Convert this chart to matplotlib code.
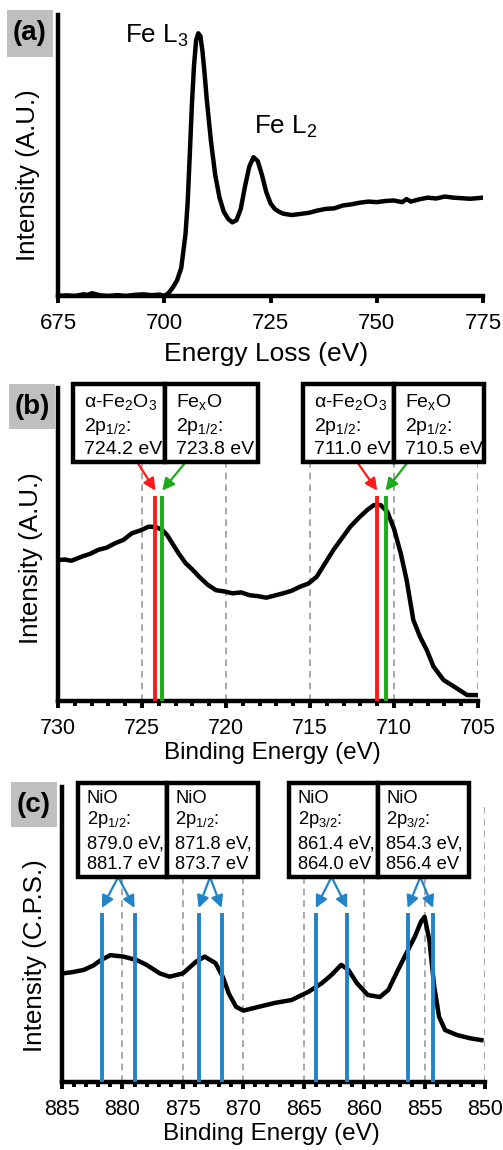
import matplotlib
matplotlib.use('Agg')
import matplotlib.pyplot as plt
from matplotlib.patches import Rectangle
from matplotlib.ticker import MultipleLocator

plt.rcParams['font.family'] = ['Liberation Sans', 'DejaVu Sans']
plt.rcParams['mathtext.fontset'] = 'custom'
plt.rcParams['mathtext.rm'] = 'Liberation Sans'
plt.rcParams['mathtext.it'] = 'Liberation Sans:italic'
plt.rcParams['mathtext.default'] = 'regular'

# (a) EELS Fe L edge
eels_e = [675, 677, 679, 681, 682, 683, 685, 687, 689, 691, 693, 695, 697, 699, 700,
          701, 702, 703, 704, 705, 705.5, 706, 706.5, 707, 707.5, 708, 708.5, 709,
          709.5, 710, 711, 712, 713, 714, 715, 716, 717, 718, 719, 720, 721, 722, 723,
          724, 725, 726, 727, 728, 730, 732, 734, 736, 738, 740, 742, 744, 746, 748,
          750, 752, 754, 756, 757, 758, 760, 762, 764, 766, 768, 770, 772, 775]
eels_int = [0.0, 0.002, 0.0, 0.006, 0.004, 0.01, 0.002, 0.0, 0.003, 0.0, 0.004, 0.006,
            0.003, 0.005, 0.0, 0.01, 0.03, 0.055, 0.10, 0.22, 0.33, 0.50, 0.68, 0.82,
            0.91, 0.935, 0.925, 0.87, 0.79, 0.70, 0.55, 0.43, 0.35, 0.30, 0.275, 0.262,
            0.27, 0.31, 0.39, 0.46, 0.494, 0.48, 0.43, 0.37, 0.33, 0.31, 0.30, 0.293,
            0.288, 0.292, 0.296, 0.304, 0.31, 0.312, 0.322, 0.326, 0.332, 0.336, 0.334,
            0.338, 0.34, 0.334, 0.345, 0.336, 0.344, 0.35, 0.347, 0.354, 0.35, 0.348,
            0.346, 0.35]
eels_ticks = [675, 700, 725, 750, 775]

# (b) Fe 2p XPS
fe_be = [730, 729.6, 729.2, 728.6, 728.1, 727.6, 727.1, 726.6, 726.1, 725.6, 725.1,
         724.6, 724.2, 723.8, 723.5, 723.2, 722.8, 722.4, 722.0, 721.6, 721.1, 720.6,
         720.1, 719.6, 719.1, 718.6, 718.1, 717.6, 717.1, 716.6, 716.1, 715.6, 715.1,
         714.6, 714.1, 713.6, 713.1, 712.6, 712.1, 711.6, 711.2, 710.8, 710.4, 710.0,
         709.6, 709.25, 708.85, 708.45, 708.05, 707.65, 707.05, 706.25, 705.65, 705.1]
fe_int = [0.45, 0.452, 0.448, 0.461, 0.47, 0.483, 0.49, 0.504, 0.515, 0.536, 0.545,
          0.557, 0.556, 0.547, 0.53, 0.504, 0.47, 0.44, 0.42, 0.397, 0.372, 0.354,
          0.35, 0.344, 0.347, 0.338, 0.335, 0.33, 0.337, 0.344, 0.352, 0.365, 0.375,
          0.397, 0.44, 0.483, 0.52, 0.557, 0.585, 0.61, 0.626, 0.626, 0.605, 0.55,
          0.472, 0.387, 0.259, 0.205, 0.163, 0.11, 0.067, 0.04, 0.019, 0.019]
fe_ticks = [730, 725, 720, 715, 710, 705]
fe_refs = [724.2, 723.8, 711.0, 710.5]
fe_ref_colors = ['#ff1a1a', '#1aaa1a', '#ff1a1a', '#1aaa1a']
fe_labels = [['α-Fe$_2$O$_3$', '2p$_{1/2}$:', '724.2 eV'],
             ['Fe$_x$O', '2p$_{1/2}$:', '723.8 eV'],
             ['α-Fe$_2$O$_3$', '2p$_{1/2}$:', '711.0 eV'],
             ['Fe$_x$O', '2p$_{1/2}$:', '710.5 eV']]

# (c) Ni 2p XPS
ni_be = [885, 884.2, 883.2, 882.4, 881.8, 881.0, 879.9, 878.8, 878.0, 876.9, 876.1,
         875.0, 873.9, 873.2, 872.3, 871.7, 871.2, 870.6, 870.0, 868.7, 867.4, 866.0,
         864.6, 863.5, 862.7, 861.9, 861.3, 860.6, 859.7, 858.7, 858.0, 857.2, 856.5,
         855.8, 855.3, 855.0, 854.6, 854.2, 853.8, 853.3, 852.3, 851.2, 850.3]
ni_int = [0.368, 0.372, 0.38, 0.395, 0.413, 0.43, 0.425, 0.413, 0.397, 0.368, 0.357,
          0.368, 0.408, 0.425, 0.403, 0.357, 0.30, 0.255, 0.242, 0.255, 0.268, 0.278,
          0.306, 0.335, 0.363, 0.397, 0.38, 0.335, 0.295, 0.288, 0.312, 0.38, 0.437,
          0.493, 0.543, 0.56, 0.48, 0.323, 0.221, 0.176, 0.159, 0.148, 0.142]
ni_ticks = [885, 880, 875, 870, 865, 860, 855, 850]
ni_refs = [[881.7, 879.0], [873.7, 871.8], [864.0, 861.4], [856.4, 854.3]]
ni_labels = [['NiO', '2p$_{1/2}$:', '879.0 eV,', '881.7 eV'],
             ['NiO', '2p$_{1/2}$:', '871.8 eV,', '873.7 eV'],
             ['NiO', '2p$_{3/2}$:', '861.4 eV,', '864.0 eV'],
             ['NiO', '2p$_{3/2}$:', '854.3 eV,', '856.4 eV']]

BLUE = '#2183c8'
GRID = '#999999'


def style_axes(ax, ticksize, minor=False):
    for s in ['top', 'right']:
        ax.spines[s].set_visible(False)
    for s in ['left', 'bottom']:
        ax.spines[s].set_linewidth(3.2)
    ax.set_yticks([])
    ax.set_ylim(0, 1)
    ax.tick_params(axis='x', which='major', direction='out', length=5, width=2.8,
                   labelsize=ticksize, pad=7)
    if minor:
        ax.xaxis.set_minor_locator(MultipleLocator(1))
        ax.tick_params(axis='x', which='minor', direction='out', length=3.5, width=2.8)


def draw_box(ax, x0, x1, y0, y1, lines, baselines, size, xpad):
    ax.add_patch(Rectangle((x0, y0), x1 - x0, y1 - y0, transform=ax.transAxes,
                           fc='white', ec='black', lw=3.2, clip_on=False, zorder=5))
    for txt, yb in zip(lines, baselines):
        ax.text(x0 + xpad, yb, txt, transform=ax.transAxes, fontsize=size,
                ha='left', va='baseline', zorder=6, clip_on=False)


def panel_label(fig, txt, x0, y0, x1, y1):
    W, H = 503.0, 1150.0
    fig.add_artist(Rectangle((x0 / W, 1 - y1 / H), (x1 - x0) / W, (y1 - y0) / H,
                             transform=fig.transFigure, fc='#bfbfbf', ec='none'))
    fig.text((x0 + x1) / 2 / W, 1 - (y0 + y1) / 2 / H, txt, fontsize=20,
             fontweight='bold', ha='center', va='center')


fig = plt.figure(figsize=(5.03, 11.5), dpi=100)

# ---- (a)
ax1 = fig.add_axes([58 / 503, 1 - 296 / 1150, 425 / 503, 281 / 1150])
ax1.plot(eels_e, eels_int, color='black', lw=3.2, solid_joinstyle='round')
ax1.set_xlim(675, 775)
ax1.set_xticks(eels_ticks)
style_axes(ax1, 16)
ax1.set_xlabel('Energy Loss (eV)', fontsize=19)
ax1.xaxis.set_label_coords(0.49, -0.165)
ax1.set_ylabel('Intensity (A.U.)', fontsize=18.7)
ax1.yaxis.set_label_coords(-0.042, 0.43)
ax1.text(705.6, 0.925, 'Fe L$_3$', fontsize=18.7, ha='right', va='center')
ax1.text(721, 0.60, 'Fe L$_2$', fontsize=18.7, ha='left', va='center')
panel_label(fig, '(a)', 7, 10, 53, 57)

# ---- (b)
ax2 = fig.add_axes([58 / 503, 1 - 701 / 1150, 420 / 503, 313 / 1150])
ax2.vlines(fe_ticks[1:], 0, 1, colors=GRID, lw=1.2, linestyles=(0, (4, 3)), zorder=1)
ax2.plot(fe_be, fe_int, color='black', lw=3.2, zorder=3, solid_joinstyle='round')
ax2.vlines(fe_refs, 0, 0.655, colors=fe_ref_colors, lw=2.8, zorder=4)
ax2.set_xlim(730, 705)
ax2.set_xticks(fe_ticks)
style_axes(ax2, 15.5, minor=True)
ax2.set_xlabel('Binding Energy (eV)', fontsize=17.5)
ax2.xaxis.set_label_coords(0.51, -0.13)
ax2.set_ylabel('Intensity (A.U.)', fontsize=18.7)
ax2.yaxis.set_label_coords(-0.036, 0.457)

fe_boxes = [(0.036, 0.255), (0.255, 0.476), (0.583, 0.800), (0.800, 1.014)]
fe_starts = [0.19, 0.302, 0.714, 0.831]
for (bx0, bx1), lines in zip(fe_boxes, fe_labels):
    draw_box(ax2, bx0, bx1, 0.7636, 1.0128, lines, [0.940, 0.864, 0.789], 14, 0.026)
for e, c, sx in zip(fe_refs, fe_ref_colors, fe_starts):
    ax2.annotate('', xy=(e, 0.672), xycoords='data',
                 xytext=(sx, 0.76), textcoords='axes fraction',
                 arrowprops=dict(arrowstyle='-|>', color=c, lw=1.6, mutation_scale=18,
                                 shrinkA=0, shrinkB=0), zorder=4)
panel_label(fig, '(b)', 9, 384, 55, 429)

# ---- (c)
ax3 = fig.add_axes([62 / 503, 1 - 1082 / 1150, 423 / 503, 295 / 1150])
ax3.vlines(ni_ticks[1:], 0, 0.946, colors=GRID, lw=1.2, linestyles=(0, (4, 3)), zorder=1)
ax3.plot(ni_be, ni_int, color='black', lw=3.2, zorder=3, solid_joinstyle='round')
for pair in ni_refs:
    ax3.vlines(pair, 0, 0.573, colors=BLUE, lw=2.8, zorder=4)
ax3.set_xlim(885, 850)
ax3.set_xticks(ni_ticks)
style_axes(ax3, 15.5, minor=True)
ax3.set_xlabel('Binding Energy (eV)', fontsize=17.5)
ax3.xaxis.set_label_coords(0.496, -0.139)
ax3.set_ylabel('Intensity (C.P.S.)', fontsize=18.7)
ax3.yaxis.set_label_coords(-0.035, 0.43)

ni_boxes = [(0.038, 0.248), (0.248, 0.463), (0.537, 0.747), (0.747, 0.962)]
for (bx0, bx1), lines in zip(ni_boxes, ni_labels):
    draw_box(ax3, bx0, bx1, 0.695, 1.0136, lines, [0.945, 0.874, 0.792, 0.721], 13.2, 0.02)
for pair in ni_refs:
    mid = (pair[0] + pair[1]) / 2
    for e in pair:
        ax3.annotate('', xy=(e, 0.59), xytext=(mid, 0.695),
                     arrowprops=dict(arrowstyle='-|>', color=BLUE, lw=1.6,
                                     mutation_scale=18, shrinkA=0, shrinkB=0), zorder=4)
panel_label(fig, '(c)', 11, 782, 57, 827)

fig.savefig('out.png', dpi=100)
